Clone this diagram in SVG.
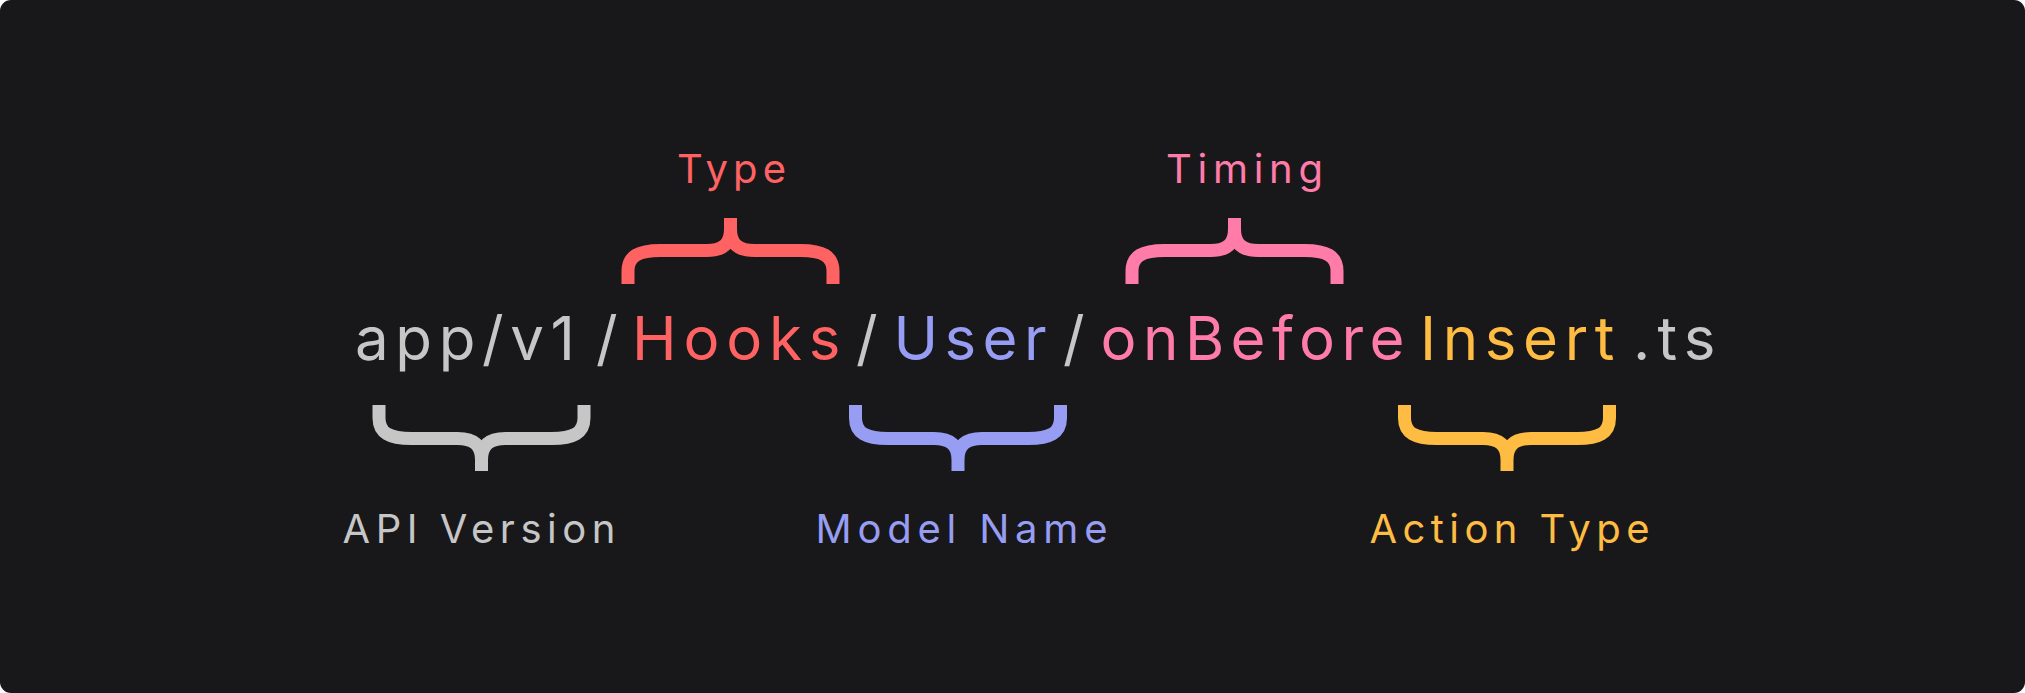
<svg xmlns="http://www.w3.org/2000/svg" xmlns:xlink="http://www.w3.org/1999/xlink" width="2025" height="693" viewBox="0 0 2025 693">
  <style>
    .main { font-family: Inter, "Liberation Sans", sans-serif; font-size: 60px; font-weight: 400; }
    .lbl { font-family: Inter, "Liberation Sans", sans-serif; font-size: 40px; font-weight: 400; }
    .brace { fill: none; stroke-width: 13; stroke-linecap: butt; stroke-linejoin: round; }
    .gray { fill: #c6c6c6; }
    .red { fill: #ff6262; }
    .pink { fill: #ff7ba8; }
    .purple { fill: #979df2; }
    .yellow { fill: #ffbc42; }
  </style>
  <defs>
    <path id="brace" d="M -102.5 66 V 53 C -102.5 38 -92 32.5 -70 32.5 H -24 C -8 32.5 0 26 0 11 V 0 M 102.5 66 V 53 C 102.5 38 92 32.5 70 32.5 H 24 C 8 32.5 0 26 0 11 V 0"/>
  </defs>
  <rect id="background" x="0" y="0" width="2025" height="693" rx="11" ry="11" fill="#18181b"/>

  <g id="path-text">
    <g id="seg-app"><text class="main gray" x="355" y="360" textLength="220" lengthAdjust="spacing">app/v1</text></g>
    <g id="sep-1"><text class="main gray" x="596" y="360">/</text></g>
    <g id="seg-hooks"><text class="main red" x="632" y="360" textLength="208.5" lengthAdjust="spacing">Hooks</text></g>
    <g id="sep-2"><text class="main gray" x="856" y="360">/</text></g>
    <g id="seg-user"><text class="main purple" x="893.5" y="360" textLength="153" lengthAdjust="spacing">User</text></g>
    <g id="sep-3"><text class="main gray" x="1063" y="360">/</text></g>
    <g id="seg-onbefore"><text class="main pink" x="1100.5" y="360" textLength="304" lengthAdjust="spacing">onBefore</text></g>
    <g id="seg-insert"><text class="main yellow" x="1420" y="360" textLength="194.5" lengthAdjust="spacing">Insert</text></g>
    <g id="seg-ext"><text class="main gray" x="1633" y="360" textLength="82.5" lengthAdjust="spacing">.ts</text></g>
  </g>

  <g id="connectors">
    <use id="brace-type" xlink:href="#brace" href="#brace" class="brace" stroke="#ff6262" transform="translate(730.5,218)"/>
    <use id="brace-timing" xlink:href="#brace" href="#brace" class="brace" stroke="#ff7ba8" transform="translate(1234.5,218)"/>
    <use id="brace-api" xlink:href="#brace" href="#brace" class="brace" stroke="#c6c6c6" transform="translate(481.5,471) scale(1,-1)"/>
    <use id="brace-model" xlink:href="#brace" href="#brace" class="brace" stroke="#979df2" transform="translate(958,471) scale(1,-1)"/>
    <use id="brace-action" xlink:href="#brace" href="#brace" class="brace" stroke="#ffbc42" transform="translate(1507,471) scale(1,-1)"/>
  </g>

  <g id="label-type"><text class="lbl red" x="677" y="183" textLength="109" lengthAdjust="spacing">Type</text></g>
  <g id="label-timing"><text class="lbl pink" x="1166" y="183" textLength="157" lengthAdjust="spacing">Timing</text></g>
  <g id="label-api"><text class="lbl gray" x="342.5" y="543" textLength="273" lengthAdjust="spacing">API Version</text></g>
  <g id="label-model"><text class="lbl purple" x="815.5" y="543" textLength="292" lengthAdjust="spacing">Model Name</text></g>
  <g id="label-action"><text class="lbl yellow" x="1369.5" y="543" textLength="280" lengthAdjust="spacing">Action Type</text></g>
</svg>
